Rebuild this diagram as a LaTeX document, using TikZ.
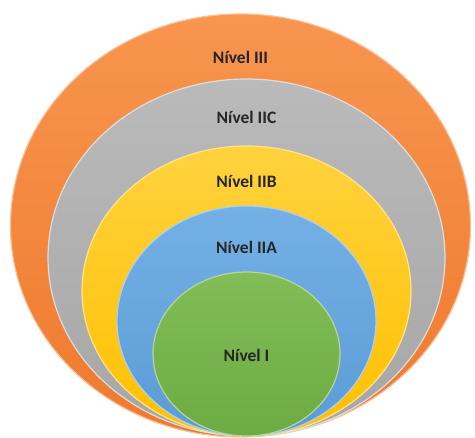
\documentclass[tikz,border=0pt]{standalone}
\usepackage{fontspec}
\setsansfont{Carlito}
\usetikzlibrary{shapes.geometric,positioning}

\definecolor{orngT}{HTML}{F8954F}
\definecolor{orngB}{HTML}{EE7A2E}
\definecolor{grayT}{HTML}{BABABA}
\definecolor{grayB}{HTML}{A6A6A6}
\definecolor{yellT}{HTML}{FFD23E}
\definecolor{yellB}{HTML}{FFC000}
\definecolor{blueT}{HTML}{74B0E6}
\definecolor{blueB}{HTML}{5B9BD5}
\definecolor{grenT}{HTML}{82BD57}
\definecolor{grenB}{HTML}{6CAB43}

\begin{document}
\begin{tikzpicture}[x=1pt,y=1pt,on grid,
   ring/.style={ellipse,inner sep=0pt,outer sep=0pt,line width=1.2pt},
   tag/.style={font=\sffamily\bfseries\fontsize{17.5}{19}\selectfont,text=black!85}]
   \useasboundingbox (0,0) rectangle (475,-438);
   \node[ring,top color=orngT,bottom color=orngB,draw=orngT!60!white] (lvl_3)
      [minimum width=460pt,minimum height=423pt] at (240.5,-225.5) {};
   \node[ring,top color=grayT,bottom color=grayB,draw=grayT!50!white] (lvl_2c)
      [minimum width=397pt,minimum height=357pt] at (246.5,-257.5) {};
   \node[ring,top color=yellT,bottom color=yellB,draw=yellT!60!white] (lvl_2b)
      [minimum width=329pt,minimum height=290pt] at (246.5,-291) {};
   \node[ring,top color=blueT,bottom color=blueB,draw=blueT!60!white] (lvl_2a)
      [minimum width=259pt,minimum height=230pt] at (246.5,-321) {};
   \node[ring,top color=grenT,bottom color=grenB,draw=grenT!60!white] (lvl_1)
      [minimum width=187pt,minimum height=164pt] at (246.5,-354) {};
   \node[tag] (t_3) [below=34pt of lvl_3.north] {Nível III};
   \node[tag] (t_2c) [below=29pt of lvl_2c.north] {Nível IIC};
   \node[tag] (t_2b) [below=26pt of lvl_2b.north] {Nível IIB};
   \node[tag] (t_2a) [below=32pt of lvl_2a.north] {Nível IIA};
   \node[tag] (t_1) at ([yshift=-1pt]lvl_1.center) {Nível I};
\end{tikzpicture}
\end{document}
